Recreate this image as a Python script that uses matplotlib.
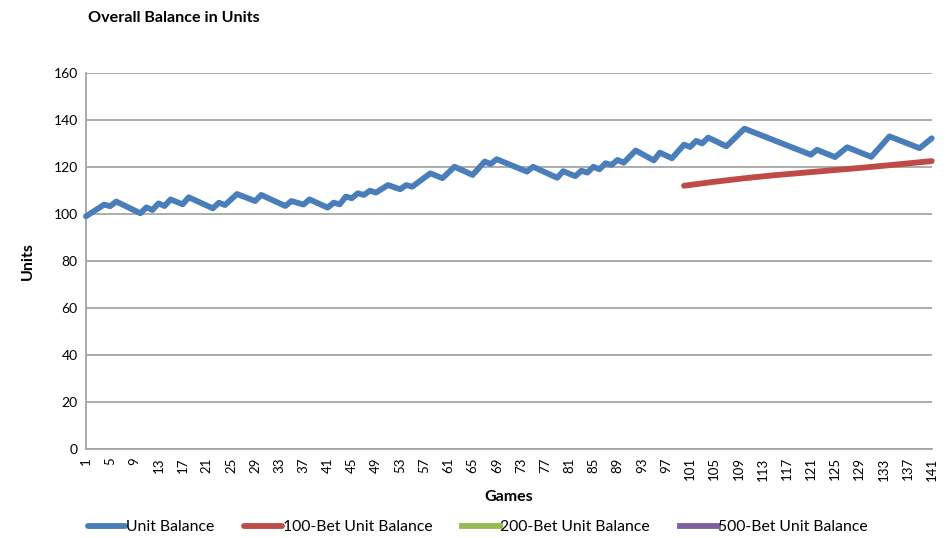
import numpy as np
import matplotlib
matplotlib.use("Agg")
from matplotlib import pyplot as plt

# Unit balance at its turning points
unit_games = [1, 4, 5, 6, 10, 11, 12, 13, 14, 15, 17, 18, 22, 23, 24, 26, 29, 30,
              34, 35, 37, 38, 41, 42, 43, 44, 45, 46, 47, 48, 49, 51, 53, 54, 55,
              58, 60, 62, 65, 67, 68, 69, 74, 75, 79, 80, 82, 83, 84, 85, 86, 87,
              88, 89, 90, 92, 95, 96, 98, 100, 101, 102, 103, 104, 107, 110, 121,
              122, 125, 127, 131, 134, 139, 141]
unit_balance = [99.0, 104.0, 103.3, 105.3, 100.3, 102.8, 101.7, 104.5, 103.4, 106.2,
                104.1, 107.1, 102.4, 104.8, 103.8, 108.5, 105.5, 108.1, 103.4, 105.5,
                104.0, 106.2, 102.7, 104.8, 104.1, 107.4, 106.7, 108.8, 108.1, 109.9,
                109.1, 112.3, 110.5, 112.3, 111.6, 117.3, 115.2, 120.1, 116.6, 122.3,
                121.3, 123.3, 118.0, 120.1, 115.4, 118.2, 116.1, 118.4, 117.6, 120.1,
                119.0, 121.6, 120.9, 123.0, 121.8, 127.0, 122.8, 126.1, 123.7, 129.5,
                128.5, 131.1, 130.0, 132.5, 128.8, 136.3, 125.2, 127.3, 124.2, 128.4,
                124.3, 133.0, 128.0, 132.2]

# 100-bet unit balance (starts at game 100)
bet100_games = [100, 105, 110, 115, 120, 125, 130, 135, 141]
bet100_balance = [112.0, 113.7, 115.2, 116.5, 117.6, 118.7, 119.8, 121.0, 122.5]

# no visible data for these two, legend entries only
bet200_games = []
bet200_balance = []
bet500_games = []
bet500_balance = []

tick_games = list(range(1, 142, 4))
y_ticks = [0, 20, 40, 60, 80, 100, 120, 140, 160]

plt.rcParams['font.family'] = ['Lato', 'DejaVu Sans']

fig = plt.figure(figsize=(9.46, 5.38), dpi=100)
ax = fig.add_axes([0.0909, 0.1654, 0.894, 0.699])

lw = 4.2
ax.plot(unit_games, unit_balance, color='#4a7ebb', lw=lw, solid_joinstyle='round',
        solid_capstyle='round', label='Unit Balance', zorder=3, clip_on=False)
ax.plot(bet100_games, bet100_balance, color='#be4b48', lw=lw, solid_capstyle='round',
        label='100-Bet Unit Balance', zorder=3, clip_on=False)
ax.plot(bet200_games, bet200_balance, color='#98b954', lw=lw, label='200-Bet Unit Balance')
ax.plot(bet500_games, bet500_balance, color='#7d60a0', lw=lw, label='500-Bet Unit Balance')

ax.set_xlim(1, 141)
ax.set_ylim(0, 160)
ax.set_xticks(tick_games)
ax.set_xticklabels([str(g) for g in tick_games], rotation=90, fontsize=9.5)
ax.set_yticks(y_ticks)
ax.set_yticklabels([str(v) for v in y_ticks], fontsize=10)
ax.tick_params(length=0, pad=6)
ax.grid(axis='y', color='#a6a6a6', lw=1.3)
ax.set_axisbelow(True)
for s in ['top', 'right']:
    ax.spines[s].set_visible(False)
for s in ['left', 'bottom']:
    ax.spines[s].set_color('#a6a6a6')
    ax.spines[s].set_linewidth(1.3)

ax.set_xlabel('Games', fontsize=11.5, fontweight='bold', labelpad=7)
ax.set_ylabel('Units', fontsize=11.5, fontweight='bold', labelpad=13)
fig.text(0.093, 0.966, 'Overall Balance in Units', fontsize=11.6, fontweight='bold',
         ha='left', va='center')

fig.legend(loc='center', bbox_to_anchor=(0.505, 0.02), ncol=4, frameon=False,
           fontsize=11.3, handlelength=2.4, handletextpad=0.05, columnspacing=1.9)

fig.savefig('out.png', dpi=100)
